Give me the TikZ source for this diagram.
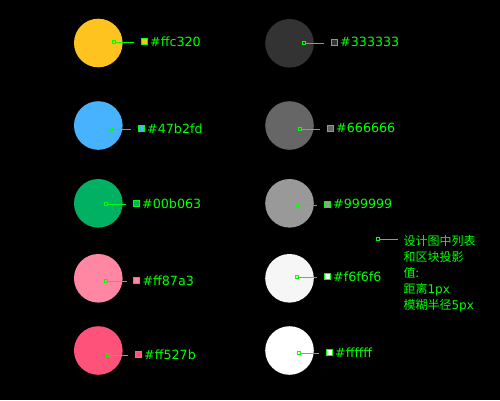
\documentclass[tikz,border=0pt]{standalone}
\usepackage{fontspec}
\setmainfont{DejaVu Sans}
\newfontfamily\cjk{Noto Sans CJK SC}
\usepackage{tikz}
\usetikzlibrary{positioning}
\definecolor{hexgreen}{HTML}{00FF00}
\definecolor{hexffc320}{HTML}{FFC320}
\definecolor{hex47b2fd}{HTML}{47B2FD}
\definecolor{hex00b063}{HTML}{00B063}
\definecolor{hexff87a3}{HTML}{FF87A3}
\definecolor{hexff527b}{HTML}{FF527B}
\definecolor{hex333333}{HTML}{333333}
\definecolor{hex666666}{HTML}{666666}
\definecolor{hex999999}{HTML}{999999}
\definecolor{hexf6f6f6}{HTML}{F6F6F6}
\definecolor{hexffffff}{HTML}{FFFFFF}
\tikzset{
  dot/.style={circle,minimum size=48.6pt,inner sep=0pt},
  marker/.style={rectangle,draw=hexgreen,line width=0.8pt,minimum size=3pt,inner sep=0pt},
  swatch/.style={rectangle,draw=hexgreen,line width=1pt,minimum size=6pt,inner sep=0pt},
  hexlabel/.style={text=hexgreen,inner sep=0pt,font=\fontsize{12.7}{15}\selectfont},
  leader/.style={draw=hexgreen,line width=1pt,shorten >=6.8pt},
  notetext/.style={text=hexgreen,inner sep=0pt,align=left,font=\fontsize{12}{16}\selectfont}
}
\begin{document}
\begin{tikzpicture}[x=1pt,y=-1pt]
  \useasboundingbox (0,0) rectangle (500,400);
  \fill[black] (0,0) rectangle (500,400);
  % left column
  \node[dot,fill=hexffc320] (c1) at (98.3,43) {};
  \node[dot,fill=hex47b2fd] (c2) at (98.3,125.5) {};
  \node[dot,fill=hex00b063] (c3) at (98.3,203.3) {};
  \node[dot,fill=hexff87a3] (c4) at (98.3,278.3) {};
  \node[dot,fill=hexff527b] (c5) at (98.3,350.5) {};
  \node[marker] (m1) at (114.3,42.3) {};
  \node[marker] (m2) at (111,129.3) {};
  \node[marker] (m3) at (106.3,204.3) {};
  \node[marker] (m4) at (106.3,281) {};
  \node[marker] (m5) at (108.3,355) {};
  \node[swatch,fill=hexffc320] (s1) at (144.5,41.3) {};
  \node[swatch,fill=hex47b2fd] (s2) at (141.5,128.7) {};
  \node[swatch,fill=hex00b063] (s3) at (136.5,203.3) {};
  \node[swatch,fill=hexff87a3] (s4) at (136.8,280.3) {};
  \node[swatch,fill=hexff527b] (s5) at (138.5,354.3) {};
  \node[hexlabel,right=2pt of s1] (t1) {\#ffc320};
  \node[hexlabel,right=2pt of s2] (t2) {\#47b2fd};
  \node[hexlabel,right=2pt of s3] (t3) {\#00b063};
  \node[hexlabel,right=2pt of s4] (t4) {\#ff87a3};
  \node[hexlabel,right=2pt of s5] (t5) {\#ff527b};
  \draw[leader] (m1) -- (s1.west |- m1);
  \draw[leader] (m2) -- (s2.west |- m2);
  \draw[leader] (m3) -- (s3.west |- m3);
  \draw[leader] (m4) -- (s4.west |- m4);
  \draw[leader] (m5) -- (s5.west |- m5);
  % right column
  \node[dot,fill=hex333333] (c6) at (289.5,43.3) {};
  \node[dot,fill=hex666666] (c7) at (289.5,125.5) {};
  \node[dot,fill=hex999999] (c8) at (289.5,203.3) {};
  \node[dot,fill=hexf6f6f6] (c9) at (289.5,278.3) {};
  \node[dot,fill=hexffffff] (c10) at (289.5,350.5) {};
  \node[marker] (m6) at (304.3,43.3) {};
  \node[marker] (m7) at (300.3,129) {};
  \node[marker] (m8) at (297.3,205.3) {};
  \node[marker] (m9) at (297.3,277.3) {};
  \node[marker] (m10) at (299.3,353.3) {};
  \node[swatch,fill=hex333333] (s6) at (334.5,42.3) {};
  \node[swatch,fill=hex666666] (s7) at (330.5,128.3) {};
  \node[swatch,fill=hex999999] (s8) at (327.5,204.3) {};
  \node[swatch,fill=hexf6f6f6] (s9) at (327.5,276.3) {};
  \node[swatch,fill=hexffffff] (s10) at (329.5,352.3) {};
  \node[hexlabel,right=2pt of s6] (t6) {\#333333};
  \node[hexlabel,right=2pt of s7] (t7) {\#666666};
  \node[hexlabel,right=2pt of s8] (t8) {\#999999};
  \node[hexlabel,right=2pt of s9] (t9) {\#f6f6f6};
  \node[hexlabel,right=2pt of s10] (t10) {\#ffffff};
  \draw[leader] (m6) -- (s6.west |- m6);
  \draw[leader] (m7) -- (s7.west |- m7);
  \draw[leader] (m8) -- (s8.west |- m8);
  \draw[leader] (m9) -- (s9.west |- m9);
  \draw[leader] (m10) -- (s10.west |- m10);
  % note
  \node[marker] (m11) at (378.3,239.3) {};
  \node[notetext,anchor=north west] (note) at (403.3,235.5)
    {{\cjk 设计图中列表}\\{\cjk 和区块投影}\\{\cjk 值:}\\{\cjk 距离}1px\\{\cjk 模糊半径}5px};
  \draw[leader,shorten >=5pt] (m11) -- (note.west |- m11);
\end{tikzpicture}
\end{document}
